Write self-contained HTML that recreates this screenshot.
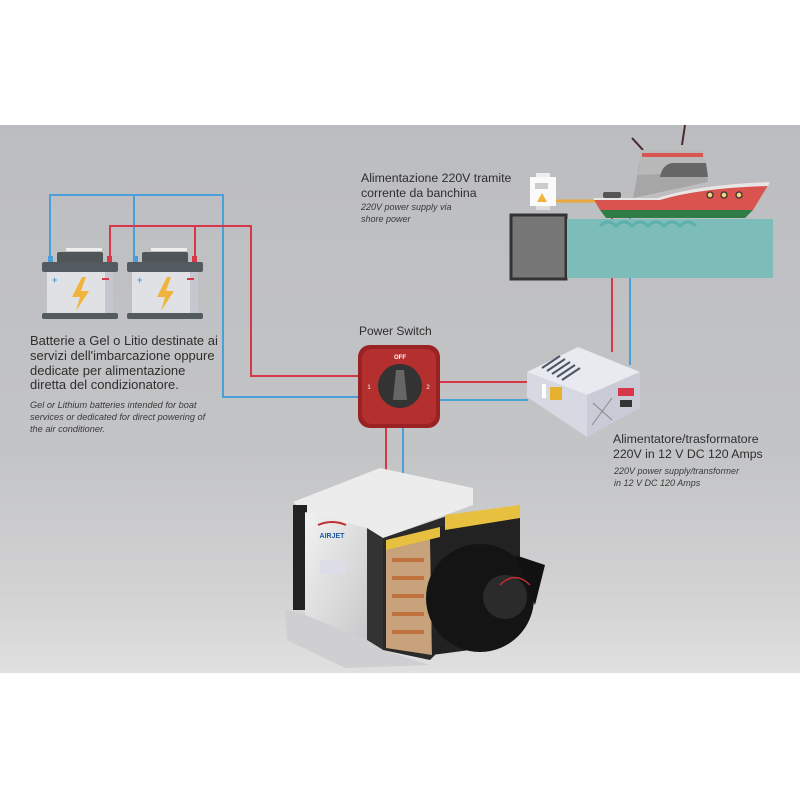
<!DOCTYPE html>
<html><head><meta charset="utf-8"><style>
html,body{margin:0;padding:0;background:#fff}
body{width:800px;height:800px;position:relative;overflow:hidden;font-family:"Liberation Sans",sans-serif}
.t{position:absolute;color:#2e2e2e;white-space:nowrap}
.it{font-style:italic;color:#3a3a3a}
</style></head><body>
<svg width="800" height="800" style="position:absolute;left:0;top:0">
<defs>
<linearGradient id="bg" x1="0" y1="0" x2="0" y2="1">
<stop offset="0" stop-color="#bcbdc0"/><stop offset="0.6" stop-color="#c3c4c6"/><stop offset="0.85" stop-color="#d2d2d3"/><stop offset="1" stop-color="#e0e0e0"/>
</linearGradient>
<linearGradient id="silver" x1="0" y1="0" x2="1" y2="1">
<stop offset="0" stop-color="#f2f2f2"/><stop offset="1" stop-color="#c9c9cb"/>
</linearGradient>
</defs>
<rect x="0" y="125" width="800" height="548" fill="url(#bg)"/>
<g fill="none" stroke-width="2">
<path d="M50 258 V195 H223 V397 H360" stroke="#4a9fd8"/>
<path d="M134 258 V195" stroke="#4a9fd8"/>
<path d="M110 258 V226 H251 V376 H360" stroke="#d8374a"/>
<path d="M195 258 V226" stroke="#d8374a"/>
<path d="M440 382 H528" stroke="#d8374a"/>
<path d="M440 400 H528" stroke="#4a9fd8"/>
<path d="M612 217 V352" stroke="#d8374a"/>
<path d="M630 217 V365" stroke="#4a9fd8"/>
<path d="M386 428 V480" stroke="#d8374a"/>
<path d="M403 428 V475" stroke="#4a9fd8"/>
</g>
<g id="bat">
<rect x="57" y="252" width="46" height="11" rx="2" fill="#4f5559"/>
<rect x="66" y="248" width="36" height="3" fill="#eee"/>
<rect x="48" y="256" width="5" height="6" fill="#4a9fd8"/>
<rect x="107" y="256" width="5" height="6" fill="#d8374a"/>
<rect x="42" y="262" width="76" height="10" rx="2" fill="#545b60"/>
<rect x="47" y="272" width="66" height="41" fill="#dfe1e5"/>
<rect x="105" y="272" width="8" height="41" fill="#c4c8ce"/>
<text x="52" y="283" font-size="9" fill="#4a9fd8" font-weight="bold">+</text>
<rect x="102" y="278" width="7" height="2" fill="#d8374a"/>
<path d="M82 277 L72 297 H80 L76 311 L89 291 H81 L86 277 Z" fill="#f0b43c"/>
<rect x="42" y="313" width="76" height="6" rx="2" fill="#545b60"/>
</g>
<use href="#bat" x="85"/>
<rect x="511" y="215" width="55" height="64" fill="#777" stroke="#333" stroke-width="3"/>
<rect x="567" y="219" width="206" height="59" fill="#7cbdba"/>
<rect x="536" y="173" width="14" height="5" fill="#eee"/>
<rect x="530" y="177" width="26" height="29" fill="#fafafa"/>
<rect x="535" y="183" width="13" height="6" fill="#ccc"/>
<path d="M542 193 L537 202 H547 Z" fill="#f0b43c"/>
<rect x="536" y="206" width="14" height="4" fill="#ddd"/>
<path d="M556 201 H595" stroke="#e8a93a" stroke-width="3"/>
<path d="M632 138 L643 150 M685 125 L682 145" stroke="#4a2a2a" stroke-width="2"/>
<path d="M633 198 L642 150 H703 L708 182 Z" fill="#a6a6a6"/>
<path d="M638 175 L642 150 H703 L706 172 Z" fill="#b9b9b9"/>
<rect x="642" y="153" width="61" height="4" fill="#d9534f"/>
<path d="M660 177 Q662 165 672 163 H706 L708 177 Z" fill="#666"/>
<rect x="603" y="192" width="18" height="6" rx="2" fill="#555"/>
<path d="M593 198 H657 Q700 184 770 182 L753 210 H600 Z" fill="#d9534f"/>
<path d="M593 198 H657 Q700 184 770 182 L768 186 Q700 188 660 200 H594 Z" fill="#e6e6e6"/>
<path d="M600 210 H753 L745 218 H606 Z" fill="#2f7d46"/>
<g fill="#f5d57a" stroke="#333" stroke-width="1.3"><circle cx="710" cy="195" r="3"/><circle cx="724" cy="195" r="3"/><circle cx="739" cy="195" r="3"/></g>
<path d="M600 226 q8 -8 16 0 q8 -8 16 0 q8 -8 16 0 q8 -8 16 0 q8 -8 16 0 q8 -8 16 0" fill="none" stroke="#5fb0ac" stroke-width="3"/>
<rect x="358" y="345" width="82" height="83" rx="12" fill="#9b2224"/>
<rect x="362" y="349" width="74" height="75" rx="10" fill="#b3302f"/>
<circle cx="400" cy="386" r="22" fill="#333"/>
<path d="M396 370 H404 L407 400 H393 Z" fill="#666"/>
<text x="400" y="359" font-size="6" fill="#fff" text-anchor="middle" font-weight="bold">OFF</text>
<text x="369" y="389" font-size="6" fill="#fff" text-anchor="middle">1</text>
<text x="428" y="389" font-size="6" fill="#fff" text-anchor="middle">2</text>
<path d="M527 372 L578 347 L640 372 L587 395 Z" fill="#e8eaf0"/>
<path d="M527 372 L587 395 L587 437 L527 397 Z" fill="#d6d9e2"/>
<path d="M587 395 L640 372 L640 408 L587 437 Z" fill="#c9ccd6"/>
<g stroke="#4b5563" stroke-width="2"><path d="M542 368 L560 356 M547 371 L565 359 M552 374 L570 362 M557 377 L575 365 M562 380 L580 368"/></g>
<rect x="542" y="384" width="4" height="14" fill="#fff"/>
<rect x="550" y="387" width="12" height="13" fill="#e6b22e"/>
<rect x="618" y="388" width="16" height="8" fill="#d8374a"/>
<rect x="620" y="400" width="12" height="7" fill="#333"/>
<path d="M592 425 L612 398 M593 403 L612 420" stroke="#888" stroke-width="1"/>
<!-- AC unit -->
<path d="M293 502 L380 468 L473 488 L473 505 L383 538 L305 512 Z" fill="#ececec"/>
<rect x="293" y="505" width="14" height="105" fill="#222"/>
<path d="M305 512 L367 528 L367 640 L305 625 Z" fill="url(#silver)"/>
<path d="M367 528 L383 538 L383 650 L367 640 Z" fill="#333"/>
<path d="M285 610 L305 615 L367 640 L383 650 L430 665 L345 668 L287 640 Z" fill="#cfcfd1"/>
<path d="M383 538 L450 515 L450 640 L430 660 L383 650 Z" fill="#2a2a2a"/>
<path d="M386 548 L430 535 L432 655 L386 648 Z" fill="#c8a27a"/>
<g stroke="#c0713e" stroke-width="4" fill="none"><path d="M392 560 h32 M392 578 h32 M392 596 h32 M392 614 h32 M392 632 h32"/></g>
<path d="M430 530 L520 505 L520 600 L470 650 L432 655 Z" fill="#222"/>
<path d="M445 515 L520 505 L520 518 L445 530 Z" fill="#e8c040"/>
<path d="M386 540 L440 527 L440 537 L386 550 Z" fill="#e8c040"/>
<circle cx="480" cy="598" r="54" fill="#141414"/>
<circle cx="505" cy="597" r="22" fill="#2b2b2b"/>
<path d="M515 555 L545 565 L535 605 Z" fill="#111"/>
<path d="M500 585 q15 -15 30 0" stroke="#c03030" stroke-width="1.5" fill="none"/>
<path d="M318 525 q14 -6 28 0" stroke="#c03030" stroke-width="2" fill="none"/>
<text x="332" y="538" font-size="7" fill="#1f5aa0" font-weight="bold" text-anchor="middle">AIRJET</text>
<rect x="320" y="560" width="26" height="14" fill="#dcdde6"/>
</svg>
<div class="t" style="left:30px;top:334px;font-size:13px;line-height:14.8px">Batterie a Gel o Litio destinate ai<br>servizi dell'imbarcazione oppure<br>dedicate per alimentazione<br>diretta del condizionatore.</div>
<div class="t it" style="left:30px;top:399px;font-size:9.2px;line-height:12px">Gel or Lithium batteries intended for boat<br>services or dedicated for direct powering of<br>the air conditioner.</div>
<div class="t" style="left:361px;top:171px;font-size:12.3px;line-height:14.5px">Alimentazione 220V tramite<br>corrente da banchina</div>
<div class="t it" style="left:361px;top:201px;font-size:9px;line-height:12px">220V power supply via<br>shore power</div>
<div class="t" style="left:359px;top:324px;font-size:12px">Power Switch</div>
<div class="t" style="left:613px;top:432px;font-size:12.3px;line-height:15px">Alimentatore/trasformatore<br>220V in 12 V DC 120 Amps</div>
<div class="t it" style="left:614px;top:465px;font-size:9px;line-height:12px">220V power supply/transformer<br>in 12 V DC 120 Amps</div>
</body></html>
